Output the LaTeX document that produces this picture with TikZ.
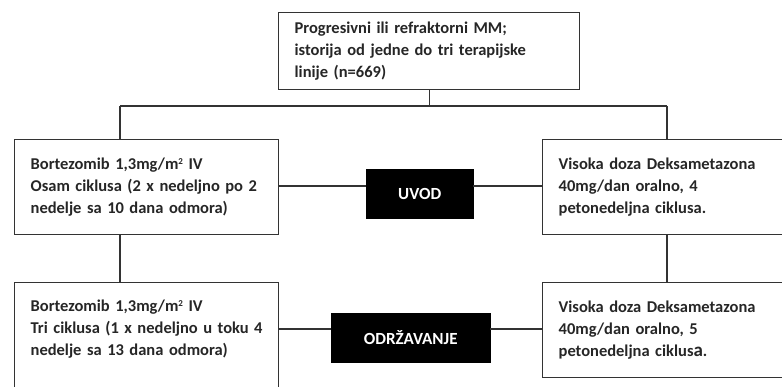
\documentclass[tikz,border=0pt]{standalone}
\usepackage{fontspec}
\setmainfont{Carlito}
\usepackage{tikz}
\usetikzlibrary{positioning}

\newcommand{\kvad}{\raisebox{5pt}{\fontsize{9}{9}\selectfont 2}}

\tikzset{
  box/.style={draw=black!80, line width=1.3pt, anchor=north west, align=left,
    inner xsep=16pt, inner ysep=17pt, minimum height=95pt, text width=232pt,
    font=\bfseries\fontsize{16.5}{22}\selectfont, text=black!85},
  phase/.style={fill=black, draw=black, text=white, inner sep=0pt,
    font=\bfseries\fontsize{17}{18}\selectfont},
  link/.style={draw=black!80, line width=1.1pt}
}

\begin{document}
\begin{tikzpicture}[x=1pt,y=-1pt]
\useasboundingbox (0,0) rectangle (782,387);
\clip (0,0) rectangle (782,387);

% polazna grupa
\node[box, text width=269pt, minimum height=77pt, inner ysep=8pt] (prog) at (278,12)
  {Progresivni ili refraktorni MM;\\ istorija od jedne do tri terapijske\\ linije (n=669)};

% uvodna terapija
\node[box] (bort1) at (14,139)
  {Bortezomib 1,3mg/m\kvad{} IV\\ Osam ciklusa (2 x nedeljno po 2\\ nedelje sa 10 dana odmora)};
\node[box] (deks1) at (542,139)
  {Visoka doza Deksametazona\\ 40mg/dan oralno, 4\\ petonedeljna ciklusa.};
\node[phase, minimum width=107pt, minimum height=49pt, anchor=north west] (uvod) at (366,169) {UVOD};

% terapija odrzavanja
\node[box] (bort2) at (14,282)
  {Bortezomib 1,3mg/m\kvad{} IV\\ Tri ciklusa (1 x nedeljno u toku 4\\ nedelje sa 13 dana odmora)\\ \mbox{}};
\node[box] (deks2) at (542,282)
  {Visoka doza Deksametazona\\ 40mg/dan oralno, 5\\ petonedeljna ciklus{\fontsize{19}{22}\selectfont a}.};
\node[phase, minimum width=159pt, minimum height=49pt, anchor=north west] (odrz) at (331,313) {ODRŽAVANJE};

% grananje
\coordinate (jl) at (120,106);
\coordinate (jr) at (667,106);
\draw[link] (prog.south) -- (prog.south |- jl);
\draw[link] (jl) -- (jr);
\draw[link] (jl) -- (jl |- bort1.north);
\draw[link] (jr) -- (jr |- deks1.north);
\draw[link] (jl |- bort1.south) -- (jl |- bort2.north);
\draw[link] (jr |- deks1.south) -- (jr |- deks2.north);

% veze prema fazama
\draw[link] ([yshift=-47pt]bort1.north east) -- ([yshift=-47pt]bort1.north east -| uvod.west);
\draw[link] ([yshift=-47pt]deks1.north west) -- ([yshift=-47pt]deks1.north west -| uvod.east);
\draw[link] ([yshift=-47pt]bort2.north east) -- ([yshift=-47pt]bort2.north east -| odrz.west);
\draw[link] ([yshift=-47pt]deks2.north west) -- ([yshift=-47pt]deks2.north west -| odrz.east);
\end{tikzpicture}
\end{document}
